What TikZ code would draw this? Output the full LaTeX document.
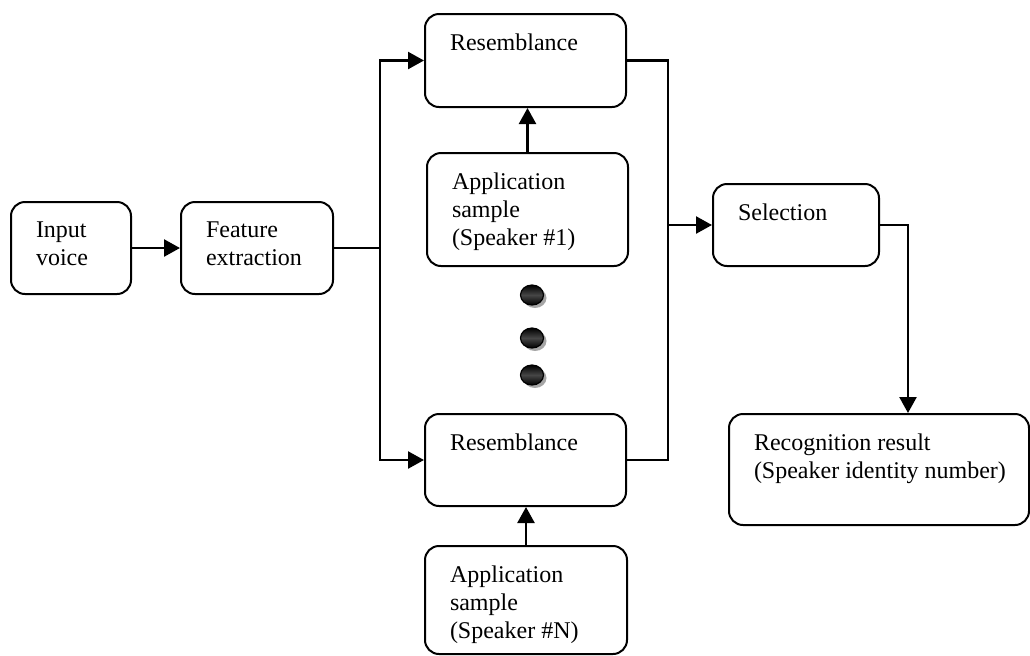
\documentclass[tikz,border=0pt]{standalone}
\usepackage{fontspec}
\setmainfont{Liberation Serif}
\usetikzlibrary{arrows.meta,calc,positioning,shapes.geometric,shadows}

\newcommand{\boxtxt}[3]{\parbox[b][#2][t]{#1}{\raggedright #3}}

\begin{document}
\begin{tikzpicture}[
  x=0.5pt,y=-0.5pt,
  font=\fontsize{12}{14}\selectfont,
  box/.style={draw,line width=1pt,rounded corners=7pt,anchor=north west,inner xsep=12.5pt,inner ysep=10pt},
  wire/.style={line width=1.2pt},
  arr/.style={-{Triangle[length=8pt,width=8.5pt]},line width=1.2pt},
  ballmark/.style={ellipse,draw=black,line width=0.6pt,minimum width=11.5pt,minimum height=10pt,inner sep=0pt,
    top color=black,bottom color=black,middle color=gray!55!black,
    drop shadow={shadow xshift=1.5pt,shadow yshift=-1.5pt,fill=gray!70,opacity=1}}
]
\useasboundingbox (0,0) rectangle (1030,655);

\node[box] (inp) at (10,201) {\boxtxt{35pt}{26pt}{Input\\voice}};
\node[box] (feat) at (180,201) {\boxtxt{51pt}{26pt}{Feature\\extraction}};
\node[box] (res1) at (424,13) {\boxtxt{75.5pt}{26.5pt}{Resemblance}};
\node[box] (app1) at (426,152) {\boxtxt{75.5pt}{36.5pt}{Application\\sample\\(Speaker \#1)}};
\node[box] (res2) at (424,413) {\boxtxt{75.5pt}{26pt}{Resemblance}};
\node[box] (appN) at (424,545) {\boxtxt{76pt}{34pt}{Application\\sample\\(Speaker \#N)}};
\node[box] (sel) at (712,183) {\boxtxt{58pt}{21pt}{Selection}};
\node[box] (rec) at (728,413) {\boxtxt{125pt}{35.5pt}{Recognition result\\\mbox{(Speaker identity number)}}};

\node[ballmark] (b1) at (532,295) {};
\node[ballmark] (b2) at (532,338) {};
\node[ballmark] (b3) at (532,375) {};

\coordinate (sl) at ([xshift=23pt]feat.east);
\coordinate (sr) at ([xshift=-22pt]sel.west);
\coordinate (rin) at ([xshift=14.5pt]rec.north);

\draw[arr] (inp) -- (feat);
\draw[wire] (feat.east) -- (sl);
\draw[arr] (sl) |- (res1.west);
\draw[arr] (sl) |- (res2.west);
\draw[arr] (app1.north) -- (app1.north |- res1.south);
\draw[arr] (appN.north) -- (appN.north |- res2.south);
\draw[wire] (res1.east) -| (sr);
\draw[wire] (res2.east) -| (sr);
\draw[arr] (sr) -- (sel.west);
\draw[arr] (sel.east) -| (rin);
\end{tikzpicture}
\end{document}
